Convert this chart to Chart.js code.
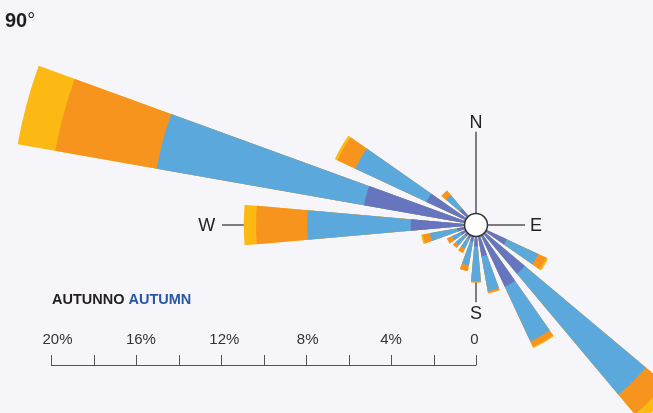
<!DOCTYPE html>
<html>
<head>
<meta charset="utf-8">
<script src="https://cdn.jsdelivr.net/npm/chart.js"></script>
<style>
  html, body { margin: 0; padding: 0; background: #f5f5fa; }
  #wrap { position: relative; width: 653px; height: 413px; }
</style>
</head>
<body>
<div id="wrap"><canvas id="rose" width="653" height="413"></canvas></div>
<script>
// wind direction (degrees, clockwise from N), one sector every 15 degrees
const bearings = [0, 15, 30, 45, 60, 75, 90, 105, 120, 135, 150, 165, 180, 195, 210, 225, 240, 255, 270, 285, 300, 315, 330, 345];
// frequency (%) per speed class, innermost class first
const band1 = [0, 0, 0, 0, 0, 0, 0, 0, 1.6, 3.0, 3.2, 1.5, 1.0, 0.8, 0.7, 0.7, 0.8, 0.9, 3.07, 5.35, 2.57, 1.0, 0, 0];
const band2 = [0, 0, 0, 0, 0, 0, 0, 0, 1.63, 7.43, 2.85, 1.66, 1.63, 1.13, 0.53, 0.55, 0.45, 1.3, 4.87, 9.91, 3.7, 0.84, 0, 0];
const band3 = [0, 0, 0, 0, 0, 0, 0, 0, 0.42, 1.2, 0.28, 0.09, 0.07, 0.27, 0.22, 0.17, 0.26, 0.35, 2.41, 4.84, 0.93, 0.28, 0, 0];
const band4 = [0, 0, 0, 0, 0, 0, 0, 0, 0.09, 0.47, 0.06, 0.02, 0, 0, 0, 0, 0, 0.07, 0.58, 1.8, 0.13, 0, 0, 0];
// scale bar under the rose
const axisTicks = [0, 2, 4, 6, 8, 10, 12, 14, 16, 18, 20];
const axisLabels = [0, 4, 8, 12, 16, 20];

const bandColors = ['#6675bd', '#5ba9dc', '#f7941e', '#fdb913'];
const sectorWidth = 10;   // degrees of each sector
const sectorGap = 5;      // degrees between sectors

// cumulative totals so the bands stack outward
const bands = [band1, band2, band3, band4];
const cumulative = bands.map((b, k) => b.map((v, i) => {
  let s = 0;
  for (let j = 0; j <= k; j++) s += bands[j][i];
  return +s.toFixed(2);
}));

// every sector is followed by an empty slot that makes the gap
const labels = bearings.flatMap(b => [b + '°', '']);
const datasets = cumulative.map((vals, k) => ({
  label: 'classe ' + (k + 1),
  data: vals.flatMap(v => [v, 0]),
  backgroundColor: bandColors[k],
  borderWidth: 0,
  clip: false,
  angle: ctx => ctx.dataIndex % 2 === 0 ? sectorWidth : sectorGap
}));

const compass = [
  { text: 'N', bearing: 0, line: 4.39, label: 4.85 },
  { text: 'E', bearing: 90, line: 2.31, label: 2.82 },
  { text: 'S', bearing: 180, line: 3.63, label: 4.15 },
  { text: 'W', bearing: 270, line: 11.95, label: 12.67 }
];

const FONT = '"Liberation Sans", Arial, Helvetica, sans-serif';

const roseDecor = {
  id: 'roseDecor',
  beforeDatasetsDraw(chart) {
    const r = chart.scales.r, ctx = chart.ctx;
    const cx = r.xCenter, cy = r.yCenter;
    ctx.save();
    ctx.strokeStyle = '#555';
    ctx.lineWidth = 1.5;
    ctx.fillStyle = '#222';
    ctx.font = '18px ' + FONT;
    ctx.textAlign = 'center';
    ctx.textBaseline = 'middle';
    compass.forEach(c => {
      const a = c.bearing * Math.PI / 180;
      const dl = r.getDistanceFromCenterForValue(c.line);
      const dt = r.getDistanceFromCenterForValue(c.label);
      ctx.beginPath();
      ctx.moveTo(cx, cy);
      ctx.lineTo(cx + Math.sin(a) * dl, cy - Math.cos(a) * dl);
      ctx.stroke();
      ctx.fillText(c.text, cx + Math.sin(a) * dt, cy - Math.cos(a) * dt + 1);
    });
    ctx.restore();
  },
  afterDatasetsDraw(chart) {
    const r = chart.scales.r, ctx = chart.ctx;
    ctx.save();
    ctx.beginPath();
    ctx.arc(r.xCenter, r.yCenter, 11.5, 0, Math.PI * 2);
    ctx.fillStyle = '#fff';
    ctx.fill();
    ctx.strokeStyle = '#333';
    ctx.lineWidth = 1.5;
    ctx.stroke();
    ctx.restore();
  },
  afterDraw(chart) {
    const r = chart.scales.r, ctx = chart.ctx;
    const x = v => r.xCenter - r.getDistanceFromCenterForValue(v);
    const axisY = 365;
    ctx.save();
    // scale bar
    ctx.strokeStyle = '#555';
    ctx.lineWidth = 1;
    ctx.beginPath();
    ctx.moveTo(x(20), axisY + 0.5);
    ctx.lineTo(x(0), axisY + 0.5);
    axisTicks.forEach(t => {
      const px = Math.round(x(t)) + 0.5;
      ctx.moveTo(px, axisY + 0.5);
      ctx.lineTo(px, axisY - 10);
    });
    ctx.stroke();
    ctx.fillStyle = '#333';
    ctx.font = '15px ' + FONT;
    ctx.textAlign = 'center';
    ctx.textBaseline = 'middle';
    axisLabels.forEach(t => {
      // labels sit a little to the right of their ticks, more so on the left
      ctx.fillText(t === 0 ? '0' : t + '%', x(t) - 1.5 + t * 0.4, 340);
    });
    // headings
    ctx.textAlign = 'left';
    ctx.textBaseline = 'alphabetic';
    ctx.fillStyle = '#1f1f1f';
    ctx.font = 'bold 20px ' + FONT;
    ctx.fillText('90', 5, 27);
    const w90 = ctx.measureText('90').width;
    ctx.font = '20px ' + FONT;
    ctx.fillText('°', 5 + w90, 27);
    ctx.font = 'bold 14.5px ' + FONT;
    ctx.fillStyle = '#231f20';
    ctx.fillText('AUTUNNO ', 52, 304);
    const wA = ctx.measureText('AUTUNNO ').width;
    ctx.fillStyle = '#2a56a6';
    ctx.fillText('AUTUMN', 52 + wA, 304);
    ctx.restore();
  }
};

new Chart(document.getElementById('rose').getContext('2d'), {
  type: 'polarArea',
  data: { labels: labels, datasets: datasets },
  options: {
    responsive: false,
    animation: false,
    devicePixelRatio: 1,
    events: [],
    layout: { padding: { left: 306, right: 7, top: 55, bottom: 18 } },
    plugins: { legend: { display: false }, tooltip: { enabled: false } },
    scales: {
      r: {
        min: 0,
        max: 8,
        startAngle: -sectorWidth / 2,
        ticks: { display: false },
        grid: { display: false },
        angleLines: { display: false },
        pointLabels: { display: false }
      }
    }
  },
  plugins: [roseDecor]
});
</script>
</body>
</html>
